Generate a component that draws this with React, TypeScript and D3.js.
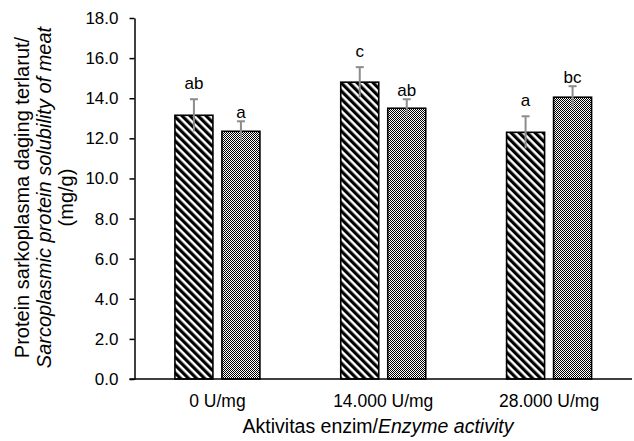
import React, { useEffect, useRef } from "react";
import * as d3 from "d3";

const categories = ["0 U/mg", "14.000 U/mg", "28.000 U/mg"];
const seriesA = [13.15, 14.8, 12.3];
const seriesB = [12.35, 13.5, 14.05];
const errorsA = [0.8, 0.75, 0.8];
const errorsB = [0.5, 0.45, 0.55];
const lettersA = ["ab", "c", "a"];
const lettersB = ["a", "ab", "bc"];
const yTicks = [0, 2, 4, 6, 8, 10, 12, 14, 16, 18];

function App() {
  const ref = useRef<SVGSVGElement>(null);

  useEffect(() => {
    const width = 634;
    const height = 441;
    const left = 134.5;
    const right = 632;
    const top = 18;
    const bottom = 379;
    const font = "'Liberation Sans', Arial, sans-serif";

    const svg = d3.select(ref.current);
    svg.selectAll("*").remove();
    svg.attr("width", width).attr("height", height);

    const defs = svg.append("defs");
    // diagonal stripes "\\\"
    const stripes = defs
      .append("pattern")
      .attr("id", "stripes")
      .attr("patternUnits", "userSpaceOnUse")
      .attr("width", 5.66)
      .attr("height", 10)
      .attr("patternTransform", "rotate(-45)");
    stripes.append("rect").attr("width", 5.66).attr("height", 10).attr("fill", "#fff");
    stripes.append("rect").attr("width", 3.2).attr("height", 10).attr("fill", "#000");

    // fine checker dots
    const dots = defs
      .append("pattern")
      .attr("id", "dots")
      .attr("patternUnits", "userSpaceOnUse")
      .attr("width", 2)
      .attr("height", 2);
    dots.append("rect").attr("width", 2).attr("height", 2).attr("fill", "#fff");
    dots.append("rect").attr("width", 1).attr("height", 1).attr("fill", "#000");
    dots.append("rect").attr("x", 1).attr("y", 1).attr("width", 1).attr("height", 1).attr("fill", "#000");

    const x = d3.scaleBand().domain(categories).range([left, right]);
    const y = d3.scaleLinear().domain([0, 18]).range([bottom, top]);

    const barW = 38;
    const innerGap = 9;

    const series = [
      { values: seriesA, errors: errorsA, letters: lettersA, fill: "url(#stripes)", offset: -(barW + innerGap) / 2, labelGap: 10 },
      { values: seriesB, errors: errorsB, letters: lettersB, fill: "url(#dots)", offset: (barW + innerGap) / 2, labelGap: 3 }
    ];

    // y axis
    const yAxis = svg
      .append("g")
      .attr("transform", `translate(${left},0)`)
      .call(
        d3
          .axisLeft(y)
          .tickValues(yTicks)
          .tickSize(5)
          .tickSizeOuter(0)
          .tickPadding(11)
          .tickFormat(d3.format(".1f"))
      );
    yAxis.selectAll("path, line").attr("stroke", "#000").attr("stroke-width", 1.5);
    yAxis.selectAll("text").attr("font-family", font).attr("font-size", 17).attr("fill", "#000");

    // bars
    series.forEach(s => {
      const g = svg.append("g");
      categories.forEach((c, i) => {
        const cx = (x(c) as number) + x.bandwidth() / 2 + s.offset;
        g.append("rect")
          .attr("x", cx - barW / 2)
          .attr("y", y(s.values[i]))
          .attr("width", barW)
          .attr("height", y(0) - y(s.values[i]))
          .attr("fill", s.fill)
          .attr("stroke", "#000")
          .attr("stroke-width", 1.6);
        const hi = y(s.values[i] + s.errors[i]);
        const lo = y(s.values[i] - s.errors[i]);
        g.append("line")
          .attr("x1", cx).attr("x2", cx)
          .attr("y1", hi).attr("y2", lo)
          .attr("stroke", "#8c8c8c")
          .attr("stroke-width", 2);
        g.append("line")
          .attr("x1", cx - 4).attr("x2", cx + 4)
          .attr("y1", hi).attr("y2", hi)
          .attr("stroke", "#8c8c8c")
          .attr("stroke-width", 2);
        g.append("text")
          .attr("x", cx)
          .attr("y", hi - s.labelGap)
          .attr("text-anchor", "middle")
          .attr("font-family", font)
          .attr("font-size", 17)
          .attr("fill", "#000")
          .text(s.letters[i]);
      });
    });

    // x axis line
    svg
      .append("line")
      .attr("x1", left - 5)
      .attr("x2", right)
      .attr("y1", bottom)
      .attr("y2", bottom)
      .attr("stroke", "#000")
      .attr("stroke-width", 1.5);

    svg
      .append("g")
      .selectAll("text")
      .data(categories)
      .join("text")
      .attr("x", d => (x(d) as number) + x.bandwidth() / 2)
      .attr("y", 406.5)
      .attr("text-anchor", "middle")
      .attr("font-family", font)
      .attr("font-size", 17.5)
      .attr("fill", "#000")
      .text(d => d);

    // x title
    const xt = svg
      .append("text")
      .attr("x", 378)
      .attr("y", 433)
      .attr("text-anchor", "middle")
      .attr("font-family", font)
      .attr("font-size", 19.5)
      .attr("fill", "#000");
    xt.append("tspan").text("Aktivitas enzim/");
    xt.append("tspan").attr("font-style", "italic").text("Enzyme activity");

    // y title
    const yt = svg
      .append("text")
      .attr("transform", "translate(0,197.5) rotate(-90)")
      .attr("text-anchor", "middle")
      .attr("font-family", font)
      .attr("font-size", 20)
      .attr("fill", "#000");
    yt.append("tspan").attr("x", 0).attr("y", 29).text("Protein sarkoplasma daging terlarut/");
    yt.append("tspan").attr("x", 0).attr("y", 51).attr("font-style", "italic").text("Sarcoplasmic protein solubility of meat");
    yt.append("tspan").attr("x", 0).attr("y", 73).text("(mg/g)");
  }, []);

  return (
    <svg ref={ref} style={{ position: "absolute", left: 0, top: 0, background: "#fff" }}></svg>
  );
}

export default App;
